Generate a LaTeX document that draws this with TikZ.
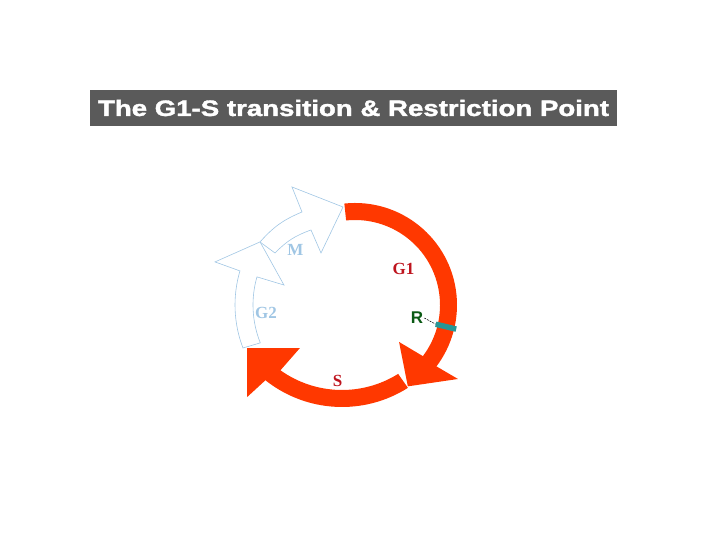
\documentclass[tikz,border=0pt]{standalone}
\usepackage{graphicx}
\usepackage{fontspec}
\setmainfont{Liberation Serif}
\newfontfamily\headfont{Liberation Sans}
\newfontfamily\titlefont[BoldFeatures={FakeBold=1.6}]{Liberation Sans}
\usepackage{tikz}
\usetikzlibrary{positioning, calc}
\definecolor{titlegray}{RGB}{90,90,90}
\definecolor{cyclered}{RGB}{255,56,0}
\definecolor{phasered}{RGB}{190,20,30}
\definecolor{phaseblue}{RGB}{160,198,228}
\definecolor{rteal}{RGB}{40,150,150}
\definecolor{rgreen}{RGB}{10,90,20}
\tikzset{
  phase/.style={inner sep=0pt, font=\bfseries\fontsize{17}{17}\selectfont},
  paler/.style={draw=phaseblue, fill=white, line width=0.6pt, line join=miter},
}
\begin{document}
\begin{tikzpicture}[x=1pt,y=1pt]
\useasboundingbox (0,0) rectangle (720,540);
\node[fill=titlegray, minimum width=527pt, minimum height=36pt, inner sep=0pt, text=white] (title) at (353.5,432)
  {\resizebox{511pt}{\height}{\titlefont\bfseries\fontsize{22.3}{24}\selectfont The G1-S transition \& Restriction Point}};
\filldraw[paler, shift={(355,235)}] (201:120) arc[start angle=201, end angle=163.5, radius=120] -- (162.9:146.5) -- (146.4:114)
  -- (164.3:73.8) -- (164:102) arc[start angle=164, end angle=201.8, radius=102] -- cycle;
\filldraw[paler] (260,298) to[bend left=13] (302,328) -- (292,353) -- (343,333) -- (321,287) -- (311,310) to[bend right=13] (275,287) -- cycle;
\fill[cyclered, shift={(355,235)}] (96:102) arc[start angle=96, end angle=-37, radius=102] -- (-35.7:126.8) -- (-57:97)
  -- (-40:57.5) -- (-37:85) arc[start angle=-37, end angle=96, radius=85] -- cycle;
\fill[cyclered, shift={(342,256)}] (-57.6:123) arc[start angle=-57.6, end angle=-128.5, radius=123] -- (-130:147.6) -- (-146:114.5)
  -- (-123.3:76.6) -- (-125.5:106) arc[start angle=-125.5, end angle=-58, radius=106] -- cycle;
\draw[rteal, line width=5.5pt, shift={(355,235)}] (-13.4:83) coordinate (rmark) -- (-13.4:104);
\node[phase, text=phasered] (g1) at (403.5,271.5) {G1};
\node[phase, text=phasered] (s) at (337.5,159) {S};
\node[phase, text=phaseblue] (m) at (295.5,290) {M};
\node[phase, text=phaseblue] (g2) at (266,227.5) {G2};
\node[inner sep=0pt, text=rgreen, font=\headfont\bfseries\fontsize{17}{17}\selectfont] (r) at (417,222) {R};
\draw[line width=0.5pt, dash pattern=on 2pt off 1pt] ([xshift=1pt]r.east) -- (rmark);
\end{tikzpicture}
\end{document}
